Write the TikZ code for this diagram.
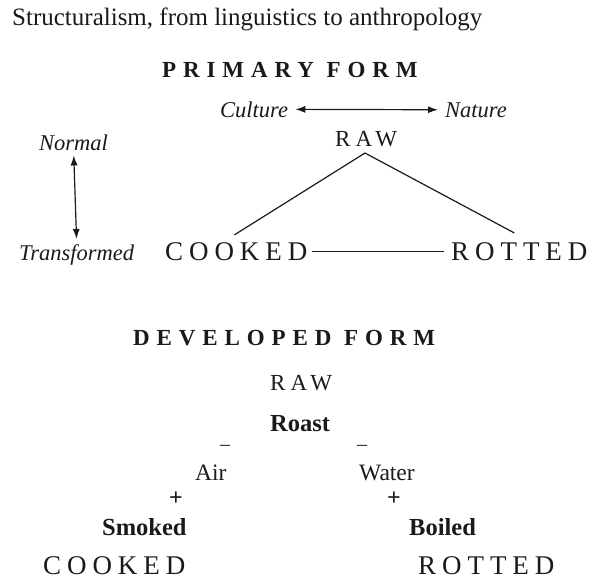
\documentclass[tikz,border=0pt]{standalone}
\usepackage{fontspec}
\setmainfont{Liberation Serif}
\usepackage{tikz}
\usetikzlibrary{arrows.meta}
\usepackage{xcolor}
\newfontfamily\spacedfont[LetterSpace=22]{Liberation Serif}
\newfontfamily\headfont[LetterSpace=30]{Liberation Serif}
\definecolor{InkBlack}{HTML}{1A1A1A}

\begin{document}
\begin{tikzpicture}[x=1pt, y=-1pt,
    every node/.style={inner sep=0pt, text=InkBlack, anchor=base west},
    heading/.style={font=\fontsize{23}{27}\headfont\bfseries},
    bigcaps/.style={font=\fontsize{27}{32}\spacedfont},
    smallcaps/.style={font=\fontsize{23}{27}\spacedfont},
    pole/.style={font=\fontsize{22.5}{27}\selectfont\itshape},
    process/.style={font=\fontsize{24.5}{29}\selectfont\bfseries},
    medium/.style={font=\fontsize{23.5}{28}\selectfont},
    sign/.style={anchor=center, font=\fontsize{24}{28}\selectfont\bfseries},
    minussign/.style={anchor=center, font=\fontsize{20}{24}\selectfont},
    link/.style={draw=InkBlack, line width=1.2pt},
    twoway/.style={draw=InkBlack, line width=1.2pt, {Latex[length=10pt,width=7pt]}-{Latex[length=10pt,width=7pt]}}]
    \useasboundingbox (0,0) rectangle (591,579);

    % Caption
    \node[font=\fontsize{25}{30}\selectfont] (caption) at (12,25) {Structuralism, from linguistics to anthropology};

    % Primary form
    \node[heading] (primary) at (162,77) {PRIMARY FORM};
    \node[pole] (culture) at (220,117) {Culture};
    \node[pole] (nature) at (445,117) {Nature};
    \draw[twoway, shorten <=7pt, shorten >=7pt] (culture.east) -- (nature.west);
    \node[pole] (normal) at (39,150) {Normal};
    \node[pole] (transformed) at (19,260) {Transformed};
    \draw[twoway, shorten <=5pt, shorten >=5pt] (normal.south) -- (transformed.north);

    \node[smallcaps] (raw) at (335,146) {RAW};
    \node[bigcaps] (cooked) at (165,260) {COOKED};
    \node[bigcaps] (rotted) at (451,260) {ROTTED};
    \coordinate (rawtip) at (365,153);
    \draw[link] (rawtip) -- ([xshift=-2pt,yshift=7pt]cooked.north);
    \draw[link] (rawtip) -- ([xshift=-5pt,yshift=9pt]rotted.north);
    \draw[link, shorten <=4pt, shorten >=7pt] (cooked.east) -- (rotted.west);

    % Developed form
    \node[heading] (developed) at (133,345) {DEVELOPED FORM};
    \node[smallcaps] (rawdev) at (270,390) {RAW};
    \node[process] (roast) at (270,431) {Roast};
    \node[minussign] (airminus) at (225,448) {–};
    \node[minussign] (waterminus) at (362,448) {–};
    \node[medium] (air) at (195,480) {Air};
    \node[medium] (water) at (359,480) {Water};
    \node[sign] (airplus) at (176,499) {+};
    \node[sign] (waterplus) at (394,499) {+};
    \node[process] (smoked) at (102,535) {Smoked};
    \node[process] (boiled) at (409,535) {Boiled};
    \node[bigcaps] (cookeddev) at (43,574) {COOKED};
    \node[bigcaps] (rotteddev) at (418,574) {ROTTED};
\end{tikzpicture}
\end{document}
